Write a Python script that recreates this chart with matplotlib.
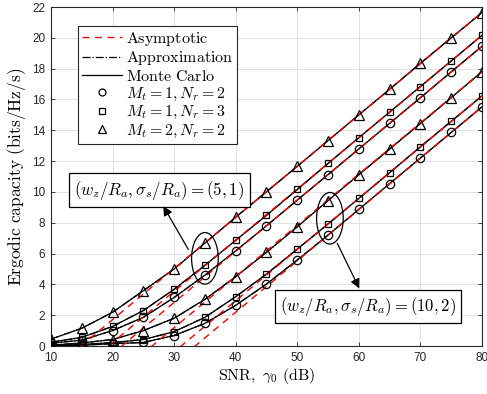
import matplotlib
matplotlib.use("Agg")
import matplotlib.pyplot as plt
from matplotlib.patches import Ellipse
from matplotlib.lines import Line2D

plt.rcParams['mathtext.fontset'] = 'cm'
plt.rcParams['font.family'] = ['Liberation Sans', 'DejaVu Sans']

# SNR grid (dB)
snr = [10, 15, 20, 25, 30, 35, 40, 45, 50, 55, 60, 65, 70, 75, 80]

# (w_z/R_a, sigma_s/R_a) = (5, 1)
cap_a_12 = [0.18, 0.38, 1.00, 1.86, 3.15, 4.60, 6.18, 7.80, 9.47, 11.12, 12.79, 14.45, 16.11, 17.79, 19.45]
cap_a_13 = [0.25, 0.56, 1.27, 2.30, 3.68, 5.24, 6.86, 8.48, 10.16, 11.85, 13.52, 15.18, 16.84, 18.50, 20.16]
cap_a_22 = [0.45, 1.15, 2.19, 3.59, 5.00, 6.68, 8.36, 10.01, 11.66, 13.33, 15.00, 16.66, 18.35, 20.00, 21.64]

# (w_z/R_a, sigma_s/R_a) = (10, 2)
cap_b_12 = [0.01, 0.05, 0.15, 0.23, 0.68, 1.47, 2.64, 4.02, 5.58, 7.20, 8.87, 10.54, 12.20, 13.86, 15.52]
cap_b_13 = [0.02, 0.10, 0.22, 0.42, 0.93, 1.86, 3.20, 4.67, 6.29, 7.92, 9.58, 11.25, 12.93, 14.58, 16.23]
cap_b_22 = [0.05, 0.20, 0.42, 1.00, 1.80, 3.03, 4.50, 6.08, 7.74, 9.44, 11.12, 12.78, 14.44, 16.12, 17.80]

# high-SNR asymptotes (straight lines between 10 dB and 80 dB)
asym_snr = [10, 80]
asym_a_12 = [-3.82, 19.45]
asym_a_13 = [-3.09, 20.16]
asym_a_22 = [-1.61, 21.64]
asym_b_12 = [-7.80, 15.52]
asym_b_13 = [-7.02, 16.23]
asym_b_22 = [-5.45, 17.80]

# marker sizes: squares a bit smaller, like MATLAB draws them
msize = {'o': 6.0, 's': 5.0, '^': 6.5}

curves = [(cap_a_12, 'o'), (cap_a_13, 's'), (cap_a_22, '^'),
          (cap_b_12, 'o'), (cap_b_13, 's'), (cap_b_22, '^')]
asyms = [asym_a_12, asym_a_13, asym_a_22, asym_b_12, asym_b_13, asym_b_22]

fig = plt.figure(figsize=(4.87, 3.94), dpi=100)
ax = fig.add_axes([0.1047, 0.1218, 0.8850, 0.8604])

for vals, mk in curves:
    ax.plot(snr, vals, '-', color='k', lw=0.9, zorder=3)
    ax.plot(snr, vals, '-.', color='k', lw=0.9, zorder=3)
    ax.plot(snr, vals, linestyle='none', marker=mk, ms=msize[mk], mfc='none',
            mec='k', mew=0.9, zorder=5)
for a in asyms:
    ax.plot(asym_snr, a, '--', color='red', lw=1.0, dashes=(5, 4), zorder=4)

ax.set_xlim(10, 80)
ax.set_ylim(0, 22)
ax.set_xticks(range(10, 81, 10))
ax.set_yticks(range(0, 23, 2))
ax.tick_params(direction='in', top=True, right=True, length=3, width=0.6,
               labelsize=8.5, pad=4, colors='#262626')
ax.grid(True, color='#dcdcdc', lw=0.6)
ax.set_axisbelow(True)
for sp in ax.spines.values():
    sp.set_linewidth(0.8)
    sp.set_color('#262626')

ax.set_xlabel(r'$\mathrm{SNR},\ \gamma_0\ \mathrm{(dB)}$', fontsize=11.5, labelpad=2)
ax.set_ylabel(r'$\mathrm{Ergodic\ capacity\ (bits/Hz/s)}$', fontsize=12.5, labelpad=3)

# ellipses marking the two parameter groups
ax.add_patch(Ellipse((35.0, 5.69), 4.33, 3.35, fill=False, ec='k', lw=0.9, zorder=6))
ax.add_patch(Ellipse((55.3, 8.29), 4.33, 3.35, fill=False, ec='k', lw=0.9, zorder=6))

box = dict(boxstyle='square,pad=0.3', fc='white', ec='k', lw=0.9)
ax.text(27.6, 10.12, r'$(w_z/R_a,\sigma_s/R_a)=(5,1)$', fontsize=12.2,
        ha='center', va='center', bbox=box, zorder=7)
ax.text(61.45, 2.58, r'$(w_z/R_a,\sigma_s/R_a)=(10,2)$', fontsize=12,
        ha='center', va='center', bbox=box, zorder=7)

arrow = dict(arrowstyle='-|>', color='k', lw=0.9, mutation_scale=14, shrinkA=0, shrinkB=0)
ax.annotate('', xy=(28.24, 9.08), xytext=(32.3, 6.27), arrowprops=arrow, zorder=8)
ax.annotate('', xy=(60.07, 3.74), xytext=(56.5, 6.66), arrowprops=arrow, zorder=8)

handles = [
    Line2D([], [], color='red', ls='--', dashes=(5, 4), lw=1.0),
    Line2D([], [], color='k', ls='-.', lw=0.9),
    Line2D([], [], color='k', ls='-', lw=0.9),
    Line2D([], [], ls='none', marker='o', ms=5.0, mfc='none', mec='k', mew=0.9),
    Line2D([], [], ls='none', marker='s', ms=4.0, mfc='none', mec='k', mew=0.9),
    Line2D([], [], ls='none', marker='^', ms=5.5, mfc='none', mec='k', mew=0.9),
]
labels = [r'$\mathrm{Asymptotic}$', r'$\mathrm{Approximation}$', r'$\mathrm{Monte\ Carlo}$',
          r'$M_t=1,N_r=2$', r'$M_t=1,N_r=3$', r'$M_t=2,N_r=2$']
leg = ax.legend(handles, labels, loc='upper left', bbox_to_anchor=(0.062, 0.945),
                fontsize=11.5, frameon=True, fancybox=False, edgecolor='#262626',
                framealpha=1, handlelength=2.5, handletextpad=0.25, labelspacing=0.1,
                borderpad=0.25, borderaxespad=0)
leg.get_frame().set_linewidth(0.8)

fig.savefig('out.png', dpi=100)
